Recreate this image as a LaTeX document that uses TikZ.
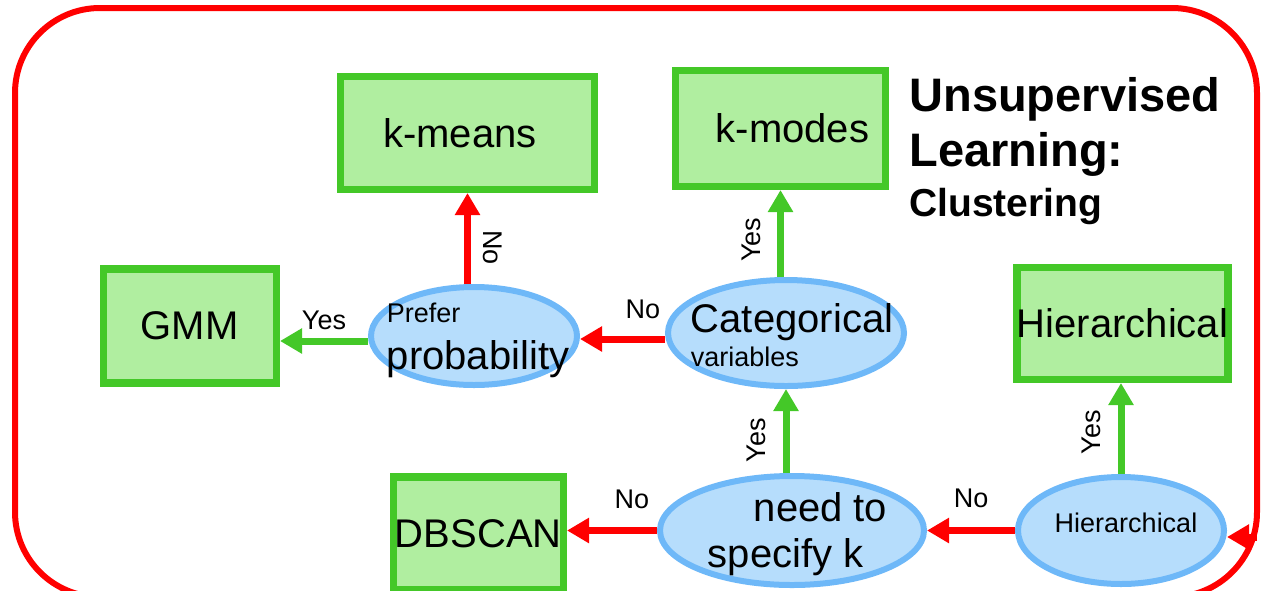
\documentclass[tikz,border=0pt]{standalone}
\usepackage{fontspec}
\setmainfont{Liberation Sans}
\usepackage{xcolor}
\usetikzlibrary{positioning, arrows.meta, shapes.geometric}

\definecolor{boxgreen}{RGB}{68,200,40}
\definecolor{boxfill}{RGB}{176,238,160}
\definecolor{askblue}{RGB}{110,184,248}
\definecolor{askfill}{RGB}{182,221,252}
\definecolor{nored}{RGB}{255,0,0}

\begin{document}
\begin{tikzpicture}[
  x=1pt, y=1pt,
  algo/.style={rectangle, draw=boxgreen, fill=boxfill, line width=7.5pt,
               inner sep=0pt, font=\fontsize{40}{48}\selectfont},
  ask/.style={ellipse, draw=askblue, fill=askfill, line width=6pt,
              inner sep=0pt},
  asktext/.style={inner sep=0pt, align=left, font=\fontsize{40}{47}\selectfont},
  title/.style={inner sep=0pt, align=left, font=\fontsize{47}{55}\selectfont\bfseries},
  yes/.style={-{Triangle[length=22pt 0, width=24pt 0]}, line width=7pt, draw=boxgreen},
  no/.style={-{Triangle[length=22pt 0, width=24pt 0]}, line width=7pt, draw=nored},
  lbl/.style={font=\fontsize{27}{32}\selectfont, inner sep=0pt},
  frame/.style={draw=nored, line width=6pt, rounded corners=85pt}
]
\useasboundingbox (0,0) rectangle (1263,-590);

% outer frame
\draw[frame] (15,-8) rectangle (1257,-597);
\coordinate (entry) at (1257,-537);

% middle row: questions
\node[ask, minimum width=236pt, minimum height=106pt,
      label={[asktext, font=\fontsize{40}{34}\selectfont, xshift=6pt, yshift=-2.4pt]center:Categorical\\{\fontsize{27}{34}\selectfont variables}}]
      (cat) at (786,-333) {};
\node[ask, minimum width=206pt, minimum height=98pt, left=85pt of cat, yshift=-3pt,
      label={[asktext, xshift=4pt, yshift=-4pt]center:{\fontsize{27}{47}\selectfont Prefer}\\probability}]
      (prob) {};

% bottom row: questions
\node[ask, minimum width=264pt, minimum height=109pt, below=84pt of cat, xshift=6pt,
      label={[asktext, font=\fontsize{40}{46}\selectfont, xshift=5.5pt, yshift=-3.7pt]center:\hspace*{46pt}need to\\specify k}]
      (needk) {};
\node[ask, minimum width=206pt, minimum height=107pt, right=88pt of needk,
      label={[asktext, font=\fontsize{27}{32}\selectfont, xshift=5pt, yshift=7.8pt]center:Hierarchical}]
      (hierE) {};

% algorithms
\node[algo, minimum width=173pt, minimum height=114pt, left=88pt of prob, yshift=10pt] (gmm) {GMM};
\node[algo, minimum width=254pt, minimum height=113pt, above=91pt of prob, xshift=-6.5pt] (kmeans) {k-means\hspace*{15pt}};
\node[algo, minimum width=210pt, minimum height=116pt, above=87pt of cat, xshift=-5.5pt] (kmodes) {\hspace*{24pt}k-modes};
\node[algo, minimum width=170pt, minimum height=113pt, left=90pt of needk, yshift=-3pt] (dbscan) {DBSCAN};
\node[algo, minimum width=210pt, minimum height=112pt, above=91pt of hierE, xshift=1.5pt] (hierB) {Hierarchical};

% title
\node[title, right=20pt of kmodes.north east, anchor=north west, yshift=-11pt] (head)
     {Unsupervised\\Learning:\\[-5pt]{\fontsize{39}{50}\selectfont Clustering}};

% Arrows
\draw[no] (entry) -- (entry -| hierE.east);
\draw[no] (hierE.west) -- node[lbl, above=19pt] {No} (hierE.west -| needk.east);
\draw[yes] (hierE.north) -- node[lbl, rotate=90, anchor=south, outer sep=20pt, pos=.46] {Yes} (hierE.north |- hierB.south);
\draw[no] (needk.west) -- node[lbl, above=18pt, pos=.28] {No} (needk.west -| dbscan.east);
\draw[yes] (cat.south |- needk.north) -- node[lbl, rotate=90, anchor=south, outer sep=20pt, pos=.39] {Yes} (cat.south);
\draw[yes] (kmodes.south |- cat.north) -- node[lbl, rotate=90, anchor=south, outer sep=20pt, pos=.43] {Yes} (kmodes.south);
\draw[no] ([yshift=-6pt]cat.west) -- node[lbl, above=17pt, pos=.26] {No} ([yshift=-6pt]cat.west -| prob.east);
\draw[yes] ([yshift=-5pt]prob.west) -- node[lbl, above=8pt] {Yes} ([yshift=-5pt]prob.west -| gmm.east);
\draw[no] (kmeans.south |- prob.north) -- node[lbl, rotate=-90, anchor=south, outer sep=16pt, pos=.4] {No} (kmeans.south);
\end{tikzpicture}
\end{document}
